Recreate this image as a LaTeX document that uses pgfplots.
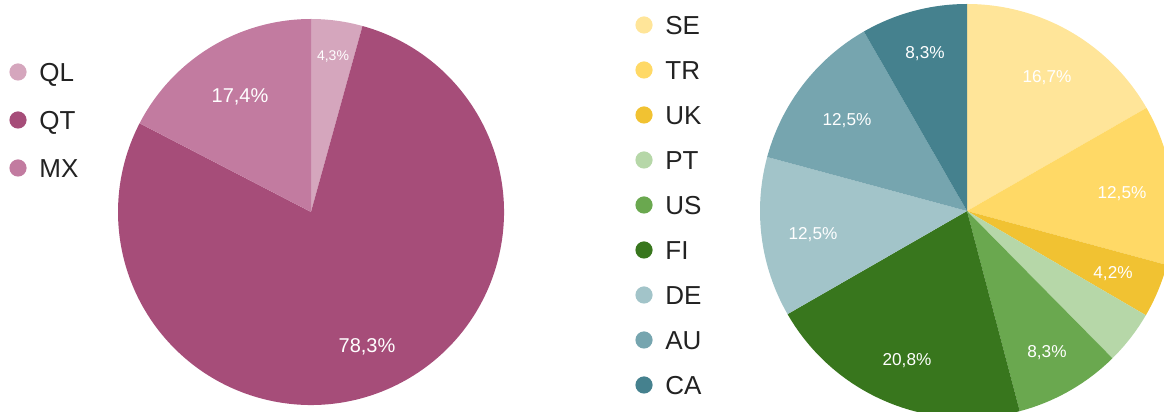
\documentclass[border=0pt]{standalone}
\usepackage{fontspec}
\setmainfont{Liberation Sans}
\usepackage{pgfplots}
\pgfplotsset{compat=1.18}
\definecolor{cQL}{HTML}{D5A6BD}
\definecolor{cQT}{HTML}{A64D79}
\definecolor{cMX}{HTML}{C27BA0}
\definecolor{cSE}{HTML}{FFE599}
\definecolor{cTR}{HTML}{FFD966}
\definecolor{cUK}{HTML}{F1C232}
\definecolor{cPT}{HTML}{B6D7A8}
\definecolor{cUS}{HTML}{6AA84F}
\definecolor{cFI}{HTML}{38761D}
\definecolor{cDE}{HTML}{A2C4C9}
\definecolor{cAU}{HTML}{76A5AF}
\definecolor{cCA}{HTML}{45818E}
\definecolor{legtext}{HTML}{222222}
% slice: cx, cy (axis units), radius (pt), cumulative start (%), share (%), colour
\newcommand{\slice}[6]{%
  \fill[#6] (axis cs:#1,#2) -- ++({90-3.6*(#4)}:#3pt)
    arc[start angle={90-3.6*(#4)}, end angle={90-3.6*((#4)+(#5))}, radius=#3pt] -- cycle;}
% legend entry: marker x, y (image px from top), text x, label, colour
\newcommand{\legitem}[5]{%
  \fill[#5] (axis cs:#1,{412-(#2)}) circle[radius=4.3pt];
  \node[anchor=base west, inner sep=0pt, text=legtext, font=\fontsize{13}{15}\selectfont]
    at (axis cs:#3,{412-(#2)-9.3}) {#4};}
% slice label: x, y (image px from top, centre of text), cap half height px, font size pt, text
\newcommand{\plabel}[5]{%
  \node[anchor=base, inner sep=0pt, text=white, font=\fontsize{#4}{#4}\selectfont]
    at (axis cs:#1,{412-(#2)-(#3)}) {#5};}
\begin{document}
\begin{tikzpicture}
\path[use as bounding box] (0,0) rectangle (582pt,206pt);
\begin{axis}[
  at={(0,0)}, anchor=south west,
  scale only axis, width=582pt, height=206pt,
  xmin=0, xmax=1164, ymin=0, ymax=412,
  hide axis, clip=true]
% left pie: QL 4.3, QT 78.3, MX 17.4
\slice{311}{200}{96.5}{0}{4.3}{cQL}
\slice{311}{200}{96.5}{4.3}{78.3}{cQT}
\slice{311}{200}{96.5}{82.6}{17.4}{cMX}
% right pie
\slice{967}{201}{103.5}{0}{16.7}{cSE}
\slice{967}{201}{103.5}{16.7}{12.5}{cTR}
\slice{967}{201}{103.5}{29.2}{4.2}{cUK}
\slice{967}{201}{103.5}{33.4}{4.2}{cPT}
\slice{967}{201}{103.5}{37.6}{8.3}{cUS}
\slice{967}{201}{103.5}{45.9}{20.8}{cFI}
\slice{967}{201}{103.5}{66.7}{12.5}{cDE}
\slice{967}{201}{103.5}{79.2}{12.5}{cAU}
\slice{967}{201}{103.5}{91.7}{8.3}{cCA}
% labels left
\plabel{333}{56}{5}{7}{4,3\%}
\plabel{240}{95}{7.2}{10}{17,4\%}
\plabel{367}{345}{7.2}{10}{78,3\%}
% labels right
\plabel{1047}{76}{6.2}{8.6}{16,7\%}
\plabel{1122}{192}{6.2}{8.6}{12,5\%}
\plabel{1113}{272}{6.2}{8.6}{4,2\%}
\plabel{1047}{351}{6.2}{8.6}{8,3\%}
\plabel{907}{359}{6.2}{8.6}{20,8\%}
\plabel{813}{233}{6.2}{8.6}{12,5\%}
\plabel{847}{119}{6.2}{8.6}{12,5\%}
\plabel{925}{52}{6.2}{8.6}{8,3\%}
% legends
\legitem{18}{72}{39}{QL}{cQL}
\legitem{18}{120}{39}{QT}{cQT}
\legitem{18}{168}{39}{MX}{cMX}
\legitem{644}{25}{665}{SE}{cSE}
\legitem{644}{70}{665}{TR}{cTR}
\legitem{644}{115}{665}{UK}{cUK}
\legitem{644}{160}{665}{PT}{cPT}
\legitem{644}{205}{665}{US}{cUS}
\legitem{644}{250}{665}{FI}{cFI}
\legitem{644}{295}{665}{DE}{cDE}
\legitem{644}{340}{665}{AU}{cAU}
\legitem{644}{385}{665}{CA}{cCA}
\end{axis}
\end{tikzpicture}
\end{document}
